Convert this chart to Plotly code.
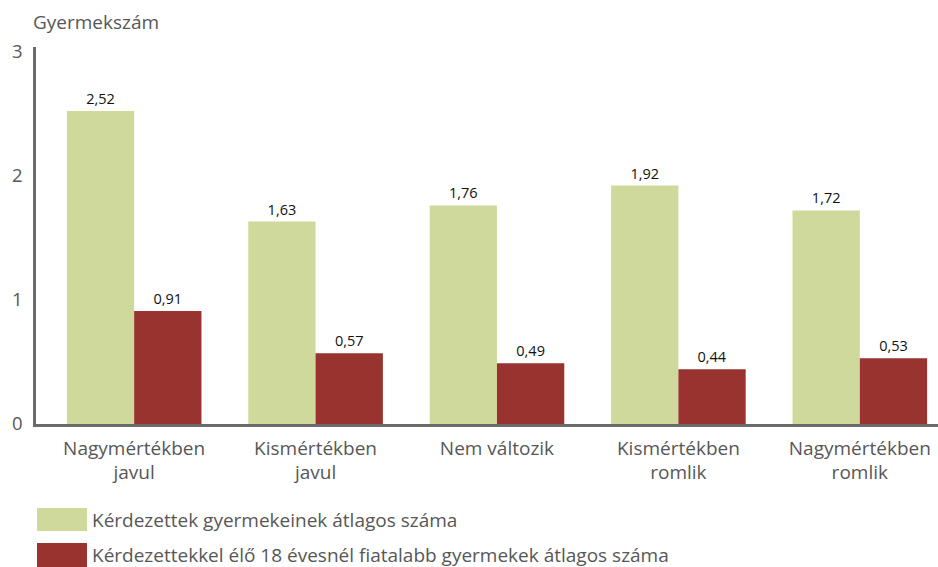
import plotly.graph_objects as go

categories = ["Nagymértékben<br>javul", "Kismértékben<br>javul", "Nem változik",
              "Kismértékben<br>romlik", "Nagymértékben<br>romlik"]
all_children = [2.52, 1.63, 1.76, 1.92, 1.72]
under_18 = [0.91, 0.57, 0.49, 0.44, 0.53]
series_names = ["Kérdezettek gyermekeinek átlagos száma",
                "Kérdezettekkel élő 18 évesnél fiatalabb gyermekek átlagos száma"]
y_ticks = [0, 1, 2, 3]

GREEN = "#cfd99c"
RED = "#993330"
AXIS = "#6b6b6b"
TEXT = "#575757"
FONT = "Open Sans"

W, H = 938, 567
L, R, T, B = 36, 0, 47, 143
plot_w, plot_h = W - L - R, H - T - B


def px_x(px):
    return (px - L) / plot_w


def px_y(py):
    return (H - B - py) / plot_h


x_idx = list(range(len(categories)))

fig = go.Figure()
for vals, color, name in [(all_children, GREEN, series_names[0]),
                          (under_18, RED, series_names[1])]:
    fig.add_trace(go.Bar(
        x=x_idx, y=vals, name=name, marker=dict(color=color, line_width=0),
        texttemplate="%{y:.2f}", textposition="outside", cliponaxis=False,
        textfont=dict(family=FONT, size=14.5, color="#111111"),
    ))

fig.update_layout(
    width=W, height=H, barmode="group", bargap=0.258, bargroupgap=0,
    separators=", ", showlegend=False,
    margin=dict(l=L, r=R, t=T, b=B),
    plot_bgcolor="white", paper_bgcolor="white",
    font=dict(family=FONT, color=TEXT),
    uniformtext=dict(minsize=14, mode="show"),
)
fig.update_xaxes(
    range=[-0.541, 4.431], tickmode="array", tickvals=x_idx, ticktext=categories,
    showline=True, linecolor=AXIS, linewidth=2.5, showgrid=False, ticks="",
    tickfont=dict(family=FONT, size=19, color=TEXT), zeroline=False,
    ticklabelstandoff=5,
)
fig.update_yaxes(
    range=[0, (H - B - T) / 124.2], tickvals=y_ticks, showline=True, linecolor=AXIS,
    linewidth=2.5, showgrid=False, ticks="", zeroline=False, ticklabelstandoff=7,
    tickfont=dict(family=FONT, size=18.5, color=TEXT),
)

fig.add_annotation(text="Gyermekszám", xref="paper", yref="paper", x=px_x(31), y=px_y(22),
                   xanchor="left", yanchor="middle", showarrow=False,
                   font=dict(family=FONT, size=19, color=TEXT))

# Legend drawn as swatches with labels
for (y0, y1), color, name in [((508, 531), GREEN, series_names[0]),
                              ((543, 567), RED, series_names[1])]:
    fig.add_shape(type="rect", xref="paper", yref="paper",
                  x0=px_x(37), x1=px_x(87), y0=px_y(y1), y1=px_y(y0),
                  fillcolor=color, line_width=0)
    fig.add_annotation(text=name, xref="paper", yref="paper", x=px_x(90), y=px_y((y0 + y1) / 2),
                       xanchor="left", yanchor="middle", showarrow=False,
                       font=dict(family=FONT, size=19, color=TEXT))

fig.write_html("out.html")
